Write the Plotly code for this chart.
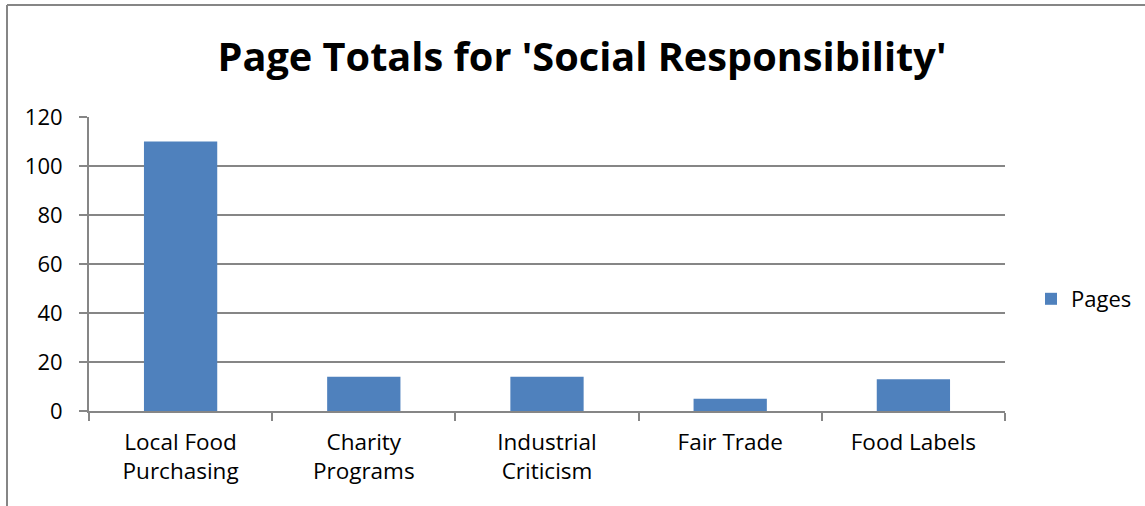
import plotly.graph_objects as go

categories = ["Local Food<br>Purchasing", "Charity<br>Programs", "Industrial<br>Criticism", "Fair Trade", "Food Labels"]
pages = [110, 14, 14, 5, 13]
y_ticks = [0, 20, 40, 60, 80, 100, 120]

FONT = "Open Sans, Liberation Sans, sans-serif"
GRAY = "#868686"

fig = go.Figure()
fig.add_trace(go.Bar(x=categories, y=pages, name="Pages", marker=dict(color="#4F81BD", line=dict(width=0)),
                     width=0.4, showlegend=True))

W, H = 1145, 506
L, R, T, B = 89, 1005, 117, 411
pw, ph = R - L, B - T

def px(x):
    return (x - L) / pw

def py(y):
    return (B - y) / ph

fig.update_layout(
    width=W, height=H,
    margin=dict(l=L, r=W - R, t=T, b=H - B, autoexpand=False),
    paper_bgcolor="white", plot_bgcolor="white",
    font=dict(family=FONT, size=22, color="black"),
    title=dict(text="<b>Page Totals for 'Social Responsibility'</b>", font=dict(family=FONT, size=39.7, color="black"),
               x=582 / W, xanchor="center", xref="container", y=1 - 57 / H, yanchor="middle"),
    showlegend=True,
    legend=dict(x=px(1031), y=py(299), xanchor="left", yanchor="middle", font=dict(size=22),
                itemwidth=30, bgcolor="rgba(0,0,0,0)"),
    bargap=0.6,
    xaxis=dict(showline=True, linecolor=GRAY, linewidth=2, ticks="outside", tickson="boundaries",
               ticklen=8, tickcolor=GRAY, tickwidth=2, showgrid=False, tickfont=dict(size=22.5),
               ticklabelstandoff=10),
    yaxis=dict(range=[0, 120], tickvals=y_ticks, showline=True, linecolor=GRAY, linewidth=2,
               ticks="outside", ticklen=8, tickcolor=GRAY, tickwidth=2, showgrid=True,
               gridcolor=GRAY, gridwidth=2, zeroline=False, tickfont=dict(size=22),
               ticklabelstandoff=12),
)

# chart outer border (top and left edges visible)
fig.add_shape(type="line", xref="paper", yref="paper", x0=px(7), x1=px(W + 5), y0=py(5), y1=py(5),
              line=dict(color=GRAY, width=2))
fig.add_shape(type="line", xref="paper", yref="paper", x0=px(7), x1=px(7), y0=py(5), y1=py(H + 5),
              line=dict(color=GRAY, width=2))

fig.write_html("out.html", config={"displayModeBar": False},
               post_script="document.body.style.margin='0';")
